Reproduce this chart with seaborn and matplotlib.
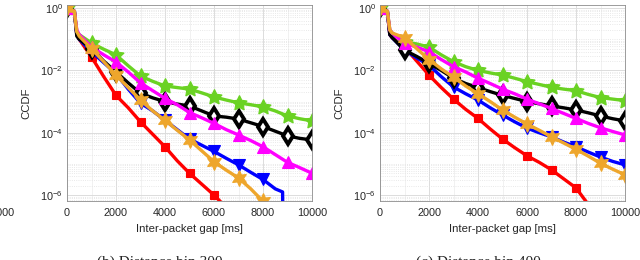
import numpy as np
import pandas as pd
import matplotlib
matplotlib.use("Agg")
import matplotlib.pyplot as plt
import matplotlib.ticker as mticker
import seaborn as sns

# ---------------- data (log10 of CCDF) ----------------
gap_ms = [0, 300, 400, 500, 1000, 1500, 2000, 2500, 3000, 3500, 4000, 4500,
          5000, 5500, 6000, 6500, 7000, 7500, 8000, 8500, 9000, 9500, 10000]

# panel (b): distance bin 300
b300_green = [0, -0.1, -0.75, -0.85, -1.12, -1.32, -1.5, -1.85, -2.18, -2.35, -2.5, -2.55,
              -2.6, -2.72, -2.85, -2.95, -3.04, -3.1, -3.17, -3.3, -3.46, -3.55, -3.62]
b300_black = [0, -0.1, -0.9, -1.0, -1.3, -1.7, -2.05, -2.4, -2.73, -2.88, -3.0, -3.08,
              -3.14, -3.3, -3.46, -3.5, -3.56, -3.68, -3.8, -3.95, -4.1, -4.18, -4.23]
b300_magenta = [0, -0.1, -0.7, -0.85, -1.25, -1.5, -1.73, -2.05, -2.4, -2.65, -2.9, -3.1,
                -3.35, -3.52, -3.7, -3.9, -4.07, -4.25, -4.45, -4.7, -4.95, -5.12, -5.3]
b300_orange = [0, -0.1, -0.75, -0.9, -1.3, -1.72, -2.15, -2.55, -2.95, -3.3, -3.6, -3.92,
               -4.23, -4.58, -4.93, -5.2, -5.45, -5.8, -6.2, -6.6]
b300_blue = [0, -0.1, -0.85, -1.0, -1.4, -1.75, -2.1, -2.6, -3.05, -3.3, -3.6, -3.9,
             -4.2, -4.4, -4.6, -4.82, -5.03, -5.27, -5.5, -5.8]
b300_blue_tail_ms = [8800, 8810]
b300_blue_tail = [-5.9, -7.0]
b300_red = [0, -0.1, -0.85, -1.0, -1.57, -2.2, -2.8, -3.2, -3.65, -4.05, -4.45, -4.9,
            -5.3, -5.65, -6.0, -6.4]

# panel (c): distance bin 400
b400_green = [0, -0.1, -0.7, -0.8, -1.08, -1.15, -1.25, -1.5, -1.72, -1.88, -2.0, -2.08,
              -2.15, -2.25, -2.36, -2.45, -2.54, -2.6, -2.65, -2.77, -2.87, -2.92, -2.97]
b400_black = [0, -0.1, -0.85, -0.95, -1.35, -1.55, -1.77, -2.0, -2.25, -2.42, -2.55, -2.68,
              -2.8, -2.9, -3.0, -3.07, -3.14, -3.2, -3.27, -3.36, -3.46, -3.55, -3.62]
b400_magenta = [0, -0.1, -0.7, -0.8, -1.13, -1.25, -1.4, -1.65, -1.88, -2.05, -2.25, -2.42,
                -2.6, -2.75, -2.92, -3.07, -3.22, -3.38, -3.54, -3.7, -3.84, -3.96, -4.07]
b400_orange = [0, -0.1, -0.7, -0.8, -0.95, -1.3, -1.65, -1.95, -2.22, -2.5, -2.75, -3.0,
               -3.27, -3.5, -3.72, -3.92, -4.13, -4.33, -4.53, -4.75, -4.98, -5.17, -5.35]
b400_blue = [0, -0.1, -0.85, -0.95, -1.35, -1.6, -1.83, -2.2, -2.53, -2.75, -2.95, -3.2,
             -3.43, -3.65, -3.85, -4.0, -4.13, -4.3, -4.45, -4.62, -4.78, -4.92, -5.03]
b400_red = [0, -0.1, -0.85, -0.95, -1.25, -1.7, -2.15, -2.55, -2.92, -3.25, -3.54, -3.88,
            -4.2, -4.48, -4.74, -4.95, -5.19, -5.48, -5.77, -6.3]

x_ticks = [0, 2000, 4000, 6000, 8000, 10000]
y_ticks = [1e0, 1e-2, 1e-4, 1e-6]
captions = ["(b) Distance bin 300", "(c) Distance bin 400"]
x_label = "Inter-packet gap [ms]"
y_label = "CCDF"

# ---------------- styles ----------------
STY = {
    "red":     dict(color="#ff0000", marker="s", ms=6.3, mfc=None, mew=0.8),
    "blue":    dict(color="#0000ff", marker="v", ms=8, mfc=None, mew=0.8),
    "black":   dict(color="#000000", marker="d", ms=8, mfc="white", mew=2.8),
    "green":   dict(color="#6ad223", marker=(5, 1, 0), ms=11.5, mfc=None, mew=0.8),
    "magenta": dict(color="#ff00ff", marker="^", ms=8, mfc=None, mew=0.8),
    "orange":  dict(color="#eea62c", marker=(6, 1, 0), ms=11.5, mfc=None, mew=0.8),
}


def series_list(panel):
    if panel == 0:
        return [
            ("red", gap_ms[:len(b300_red)], b300_red),
            ("blue", gap_ms[:len(b300_blue)] + b300_blue_tail_ms, b300_blue + b300_blue_tail),
            ("black", gap_ms, b300_black),
            ("green", gap_ms, b300_green),
            ("magenta", gap_ms, b300_magenta),
            ("orange", gap_ms[:len(b300_orange)], b300_orange),
        ]
    return [
        ("red", gap_ms[:len(b400_red)], b400_red),
        ("blue", gap_ms, b400_blue),
        ("black", gap_ms, b400_black),
        ("green", gap_ms, b400_green),
        ("magenta", gap_ms, b400_magenta),
        ("orange", gap_ms, b400_orange),
    ]


sns.set_theme(style="white")
plt.rcParams["font.family"] = ["Liberation Sans", "DejaVu Sans"]
plt.rcParams["mathtext.default"] = "regular"

fig = plt.figure(figsize=(6.4, 2.6), dpi=100)
ax_pos = [[67 / 640, 1 - 201 / 260, 245 / 640, 196 / 260],
          [380 / 640, 1 - 201 / 260, 245 / 640, 196 / 260]]

for p in range(2):
    ax = fig.add_axes(ax_pos[p])
    for name, xs, ys in series_list(p):
        st = STY[name]
        df = pd.DataFrame({"gap": xs, "ccdf": np.power(10.0, ys)})
        mark_idx = [i for i, v in enumerate(xs) if v % 1000 == 0]
        sns.lineplot(data=df, x="gap", y="ccdf", ax=ax, color=st["color"],
                     linewidth=2.4, marker=st["marker"],
                     markersize=st["ms"], markevery=mark_idx,
                     markerfacecolor=st["mfc"] if st["mfc"] else st["color"],
                     markeredgecolor=st["color"], markeredgewidth=st["mew"],
                     estimator=None, sort=False, errorbar=None)
    ax.set_yscale("log")
    ax.set_xlim(0, 10000)
    ax.set_ylim(10 ** -6.19, 10 ** 0.1)
    ax.set_xticks(x_ticks)
    ax.xaxis.set_minor_locator(mticker.MultipleLocator(1000))
    ax.yaxis.set_major_locator(mticker.FixedLocator(y_ticks))
    ax.yaxis.set_major_formatter(mticker.FuncFormatter(
        lambda v, pos: r"$10^{%d}$" % int(round(np.log10(v)))))
    ax.yaxis.set_minor_locator(mticker.LogLocator(base=10, subs=np.arange(1, 10), numticks=50))
    ax.yaxis.set_minor_formatter(mticker.NullFormatter())
    ax.grid(True, which="major", color="#dcdcdc", linewidth=0.7, linestyle="-")
    ax.grid(True, which="minor", axis="y", color="#e2e2e2", linewidth=0.6, linestyle=":")
    ax.grid(True, which="minor", axis="x", color="#ececec", linewidth=0.5, linestyle="-")
    ax.set_axisbelow(True)
    ax.tick_params(axis="both", which="both", direction="in", colors="#262626",
                   labelsize=7.8, length=2.5, width=0.5)
    ax.tick_params(axis="x", pad=5)
    ax.tick_params(axis="y", pad=3)
    for s in ax.spines.values():
        s.set_color("#8c8c8c")
        s.set_linewidth(0.6)
    ax.set_xlabel(x_label, fontsize=8.2, color="#262626", labelpad=4)
    ax.set_ylabel(y_label, fontsize=8.2, color="#262626", labelpad=6)

# cropped leftovers of the original page (the reference is cut at its edges)
fig.text(14 / 640, 1 - 213 / 260, "10000", ha="right", va="center",
         fontsize=7.8, color="#262626")
for p, cx in enumerate([160 / 640, 478 / 640]):
    fig.text(cx, 1 - 266 / 260, captions[p], ha="center", va="baseline",
             fontsize=11, family=["Liberation Serif", "DejaVu Serif"], color="#222222")

fig.savefig("out.png", dpi=100)
